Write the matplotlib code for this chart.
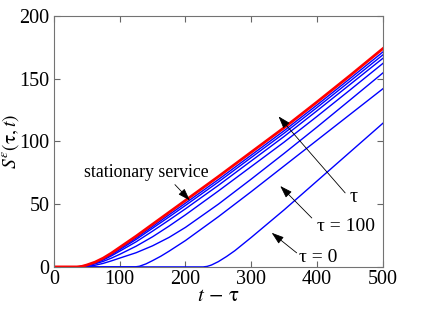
import matplotlib
matplotlib.use("Agg")
import matplotlib.pyplot as plt
from matplotlib import font_manager

names = set(f.name for f in font_manager.fontManager.ttflist)
serif = [n for n in ['Liberation Serif', 'Times New Roman', 'DejaVu Serif'] if n in names]
plt.rcParams['font.family'] = 'serif'
plt.rcParams['font.serif'] = serif
plt.rcParams['mathtext.fontset'] = 'stix'

# stationary service curve (red)
t_red = [0, 35, 42.5, 50, 62.5, 75, 87.5, 100, 125, 150, 175, 200, 250, 300, 350, 400, 450, 500]
s_red = [0, 0, 0.4, 1.5, 3.8, 7, 11, 15.5, 24.5, 34, 43.5, 53, 72, 91.5, 111, 131.5, 152.5, 174]

# blue curves that leave the axis together with the red one
t_near = [0, 35, 42.5, 50, 62.5, 75, 87.5, 100, 125, 150, 175, 200, 250, 300, 350, 400, 450, 500]
s_b7 = [0, 0, 0.4, 1.5, 3.7, 6.6, 10.4, 14.6, 23.1, 32.2, 41.5, 50.8, 69.6, 89.1, 108.6, 129.1, 150.1, 171.3]
s_b6 = [0, 0, 0.4, 1.3, 3.4, 6.2, 9.7, 13.7, 21.9, 30.8, 39.8, 49, 67.7, 87.2, 106.6, 127.1, 148, 169]
s_b5 = [0, 0, 0.3, 1.2, 3.0, 5.5, 8.8, 12.5, 20, 28.5, 37.3, 46.3, 65, 84.5, 104, 124.5, 145.4, 166.3]
s_b4 = [0, 0, 0.2, 0.9, 2.4, 4.4, 7, 10, 16.5, 24, 32.5, 41.5, 60.5, 80, 99.5, 120, 141, 162.2]

t_b3 = [0, 45, 50, 62.5, 75, 87.5, 100, 125, 150, 175, 200, 250, 300, 350, 400, 450, 500]
s_b3 = [0, 0, 0.3, 1.3, 2.8, 4.8, 7, 11.3, 16.8, 23.5, 31.5, 50, 70, 90.5, 111.5, 133, 154.6]

# tau = 100
t_b2 = [0, 123, 130, 140, 150, 162.5, 175, 200, 250, 300, 350, 400, 450, 500]
s_b2 = [0, 0, 0.5, 2.4, 5.0, 8.5, 12.5, 21, 40, 60, 80.5, 101, 121.5, 142]

# tau = 0
t_b1 = [0, 227, 233, 239.5, 250, 262.5, 275, 300, 325, 350, 375, 400, 450, 500]
s_b1 = [0, 0, 0.4, 1.5, 4.2, 8.3, 12.9, 23.5, 34.5, 45.5, 57, 68.5, 91.5, 114.5]

fig = plt.figure(figsize=(4.24, 3.14), dpi=100)
ax = fig.add_axes([0.127, 0.150, 0.776, 0.799])

blue_curves = [(t_b1, s_b1), (t_b2, s_b2), (t_b3, s_b3),
               (t_near, s_b4), (t_near, s_b5), (t_near, s_b6), (t_near, s_b7)]
for tt, ss in blue_curves:
    ax.plot(tt, ss, color=(0, 0, 1), lw=1.0)
ax.plot(t_red, s_red, color=(1, 0, 0), lw=2.0)

ax.set_xlim(0, 500)
ax.set_ylim(0, 200)
ax.set_xticks([0, 100, 200, 300, 400, 500])
ax.set_yticks([0, 50, 100, 150, 200])
ax.tick_params(direction='in', top=True, right=True, length=4, labelsize=14.5,
               color='0.4')
ax.tick_params(axis='y', pad=3)
ax.tick_params(axis='x', pad=2.5)
for sp in ax.spines.values():
    sp.set_color('0.45')
    sp.set_linewidth(0.8)

ax.set_xlabel(r'$t\, -\, \mathrm{\tau}$', fontsize=15, labelpad=-2)
ax.set_ylabel(r'$S^{\varepsilon}(\mathrm{\tau},t)$', fontsize=14, labelpad=-1)

arr = dict(arrowstyle='-|>,head_length=0.75,head_width=0.25', color='k',
           lw=0.6, shrinkA=0, shrinkB=0)
ax.text(141, 75.5, 'stationary service', fontsize=12.8, ha='center', va='center')
ax.annotate('', xy=(206.7, 53), xytext=(184, 65.6), arrowprops=arr)

ax.annotate('', xy=(341.4, 120), xytext=(442.7, 59), arrowprops=arr)
ax.text(455.5, 55, 'τ', fontsize=14.5, ha='center', va='center')

ax.annotate('', xy=(344, 64.5), xytext=(392, 39), arrowprops=arr)
ax.text(444, 32.5, 'τ = 100', fontsize=14, ha='center', va='center')

ax.annotate('', xy=(331, 27.2), xytext=(369, 11.2), arrowprops=arr)
ax.text(402, 7.7, 'τ = 0', fontsize=14, ha='center', va='center')

fig.savefig('out.png', dpi=100)
